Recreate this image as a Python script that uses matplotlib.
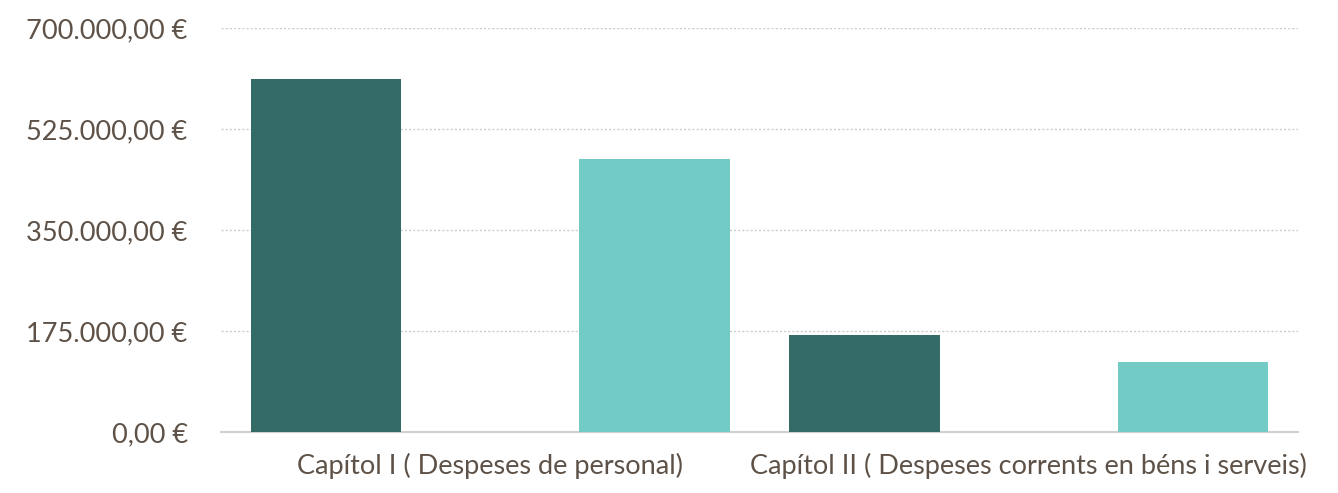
import numpy as np
import matplotlib
matplotlib.use('Agg')
import matplotlib.pyplot as plt
from matplotlib.ticker import FuncFormatter

categories = ['Capítol I ( Despeses de personal)',
              'Capítol II ( Despeses corrents en béns i serveis)']
serie_a = [611000, 168000]   # dark bars
serie_b = [473000, 121000]   # light bars
yticks = [0, 175000, 350000, 525000, 700000]

dark = '#346b67'
light = '#72cbc4'
txt = '#5e5248'

plt.rcParams['font.family'] = ['Lato', 'DejaVu Sans']

fig = plt.figure(figsize=(13.38, 4.93), dpi=100)
ax = fig.add_axes([0.1652, 0.1237, 0.9701 - 0.1652, 0.9432 - 0.1237])

x = np.arange(len(categories))
off = 0.305
w = 0.280
ax.bar(x - off, serie_a, width=w, color=dark, zorder=3)
ax.bar(x + off, serie_b, width=w, color=light, zorder=3)

ax.set_xlim(-0.5, 1.5)
ax.set_ylim(0, 700000)
ax.set_yticks(yticks)
ax.yaxis.set_major_formatter(FuncFormatter(
    lambda v, p: '{:,.2f}'.format(v).replace(',', 'X').replace('.', ',').replace('X', '.') + ' €'))
ax.set_xticks(x)
ax.set_xticklabels(categories)

ax.grid(axis='y', color='#cccccc', linestyle=(0, (1.5, 1.5)), linewidth=1, zorder=0)
for s in ['top', 'right', 'left']:
    ax.spines[s].set_visible(False)
ax.spines['bottom'].set_color('#d5d0cb')
ax.spines['bottom'].set_linewidth(1.5)
ax.tick_params(axis='both', length=0, labelsize=19.5, colors=txt)
ax.tick_params(axis='y', pad=24)
ax.tick_params(axis='x', pad=15)

fig.savefig('out.png', dpi=100)
